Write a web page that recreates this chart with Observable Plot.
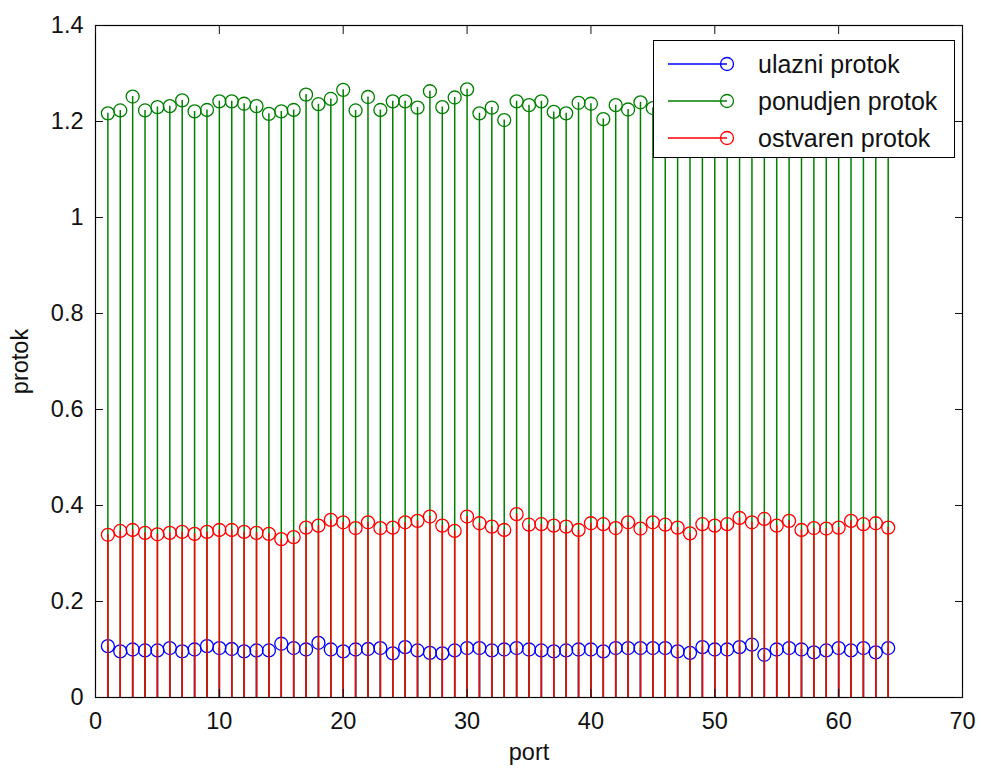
<!DOCTYPE html>
<html>
<head>
<meta charset="utf-8">
<script src="https://cdn.jsdelivr.net/npm/d3@7"></script>
<script src="https://cdn.jsdelivr.net/npm/@observablehq/plot@0.6"></script>
<style>
  html, body { margin: 0; padding: 0; background: #fff; }
  #wrap { position: relative; width: 981px; height: 771px; font-family: "Liberation Sans", Arial, sans-serif; }
  #legend {
    position: absolute; left: 653px; top: 40px; width: 300px; height: 116px;
    background: #fff; border: 1px solid #000; box-sizing: content-box;
  }
  #legend .row { position: absolute; left: 0; height: 30px; display: flex; align-items: center; }
  #legend .row span { font-size: 25px; color: #111; white-space: nowrap; }
</style>
</head>
<body>
<div id="wrap"></div>
<script>
// Port numbers along the x axis
const ports = [1,2,3,4,5,6,7,8,9,10,11,12,13,14,15,16,17,18,19,20,21,22,23,24,25,26,27,28,29,30,31,32,
  33,34,35,36,37,38,39,40,41,42,43,44,45,46,47,48,49,50,51,52,53,54,55,56,57,58,59,60,61,62,63,64];

// ulazni protok (input flow) per port
const ulazni = [0.107,0.096,0.100,0.098,0.098,0.103,0.096,0.100,0.107,0.103,0.101,0.096,0.098,0.098,0.112,0.103,
  0.100,0.114,0.100,0.096,0.100,0.101,0.103,0.092,0.105,0.098,0.093,0.092,0.098,0.103,0.103,0.098,
  0.100,0.103,0.100,0.098,0.096,0.098,0.100,0.100,0.096,0.103,0.103,0.103,0.103,0.103,0.096,0.093,
  0.105,0.100,0.100,0.105,0.110,0.089,0.100,0.103,0.100,0.094,0.098,0.103,0.098,0.103,0.094,0.103];

// ponudjen protok (offered flow) per port
const ponudjen = [1.217,1.223,1.252,1.223,1.230,1.232,1.244,1.221,1.224,1.242,1.242,1.237,1.232,1.216,1.221,1.224,
  1.256,1.236,1.247,1.266,1.223,1.251,1.224,1.242,1.242,1.229,1.263,1.230,1.250,1.267,1.217,1.229,
  1.203,1.242,1.234,1.242,1.220,1.217,1.239,1.237,1.205,1.234,1.225,1.240,1.228,1.232,1.219,1.241,
  1.226,1.214,1.238,1.229,1.222,1.245,1.218,1.233,1.227,1.240,1.215,1.231,1.224,1.236,1.221,1.228];

// ostvaren protok (achieved flow) per port
const ostvaren = [0.339,0.347,0.349,0.343,0.340,0.343,0.345,0.341,0.345,0.349,0.349,0.345,0.343,0.341,0.330,0.334,
  0.354,0.358,0.370,0.365,0.353,0.365,0.353,0.354,0.365,0.368,0.377,0.358,0.347,0.377,0.363,0.356,
  0.349,0.382,0.360,0.361,0.358,0.356,0.349,0.363,0.361,0.353,0.365,0.352,0.365,0.360,0.354,0.342,
  0.361,0.358,0.361,0.374,0.365,0.372,0.358,0.368,0.349,0.353,0.352,0.354,0.368,0.361,0.363,0.354];

const seriesNames = ["ulazni protok", "ponudjen protok", "ostvaren protok"];
const seriesColors = ["#0000ff", "#008000", "#ff0000"];
const seriesValues = [ulazni, ponudjen, ostvaren];

const xTicks = [0, 10, 20, 30, 40, 50, 60, 70];
const yTicks = [0, 0.2, 0.4, 0.6, 0.8, 1, 1.2, 1.4];
const yTickLabels = ["0", "0.2", "0.4", "0.6", "0.8", "1", "1.2", "1.4"];

// One stem layer (rules + open circles) per series, drawn blue, green, red
const stemMarks = seriesValues.flatMap((vals, i) => {
  const rows = ports.map((p, j) => ({port: p, value: vals[j]}));
  return [
    Plot.ruleX(rows, {x: "port", y1: 0, y2: "value", stroke: seriesColors[i], strokeWidth: 1.5}),
    Plot.dot(rows, {x: "port", y: "value", r: 6.5, stroke: seriesColors[i], strokeWidth: 1.3, fill: "none"})
  ];
});

const chart = Plot.plot({
  width: 981,
  height: 771,
  marginLeft: 95,
  marginRight: 19,
  marginTop: 25,
  marginBottom: 74,
  style: {fontFamily: "Liberation Sans, Arial, sans-serif", fontSize: "23.5px", color: "#111", background: "#fff"},
  x: {domain: [0, 70]},
  y: {domain: [0, 1.4]},
  marks: [
    ...stemMarks,
    Plot.frame({stroke: "#000", strokeWidth: 1.2}),
    // inward tick marks on all four sides
    Plot.axisX(xTicks, {anchor: "bottom", tickSize: -8, text: null, label: null}),
    Plot.axisX(xTicks, {anchor: "top", tickSize: -8, text: null, label: null}),
    Plot.axisY(yTicks, {anchor: "left", tickSize: -8, text: null, label: null}),
    Plot.axisY(yTicks, {anchor: "right", tickSize: -8, text: null, label: null}),
    // tick labels and axis titles
    Plot.axisX(xTicks, {anchor: "bottom", tickSize: 0, tickPadding: 15, label: "port",
      labelAnchor: "center", labelArrow: "none", labelOffset: 62}),
    Plot.axisY(yTicks, {anchor: "left", tickSize: 0, tickPadding: 12,
      tickFormat: (d, i) => yTickLabels[i], label: "protok",
      labelAnchor: "center", labelArrow: "none", labelOffset: 84})
  ]
});

const wrap = document.getElementById("wrap");
wrap.appendChild(chart);

// Legend box laid over the upper right of the axes
const legend = document.createElement("div");
legend.id = "legend";
const rowTops = [8, 45, 82];
seriesNames.forEach((name, i) => {
  const row = document.createElement("div");
  row.className = "row";
  row.style.top = rowTops[i] + "px";
  const sw = d3.create("svg").attr("width", 88).attr("height", 30).style("display", "block");
  sw.append("line").attr("x1", 14).attr("x2", 73).attr("y1", 15).attr("y2", 15)
    .attr("stroke", seriesColors[i]).attr("stroke-width", 1.5);
  sw.append("circle").attr("cx", 73).attr("cy", 15).attr("r", 6.5)
    .attr("fill", "none").attr("stroke", seriesColors[i]).attr("stroke-width", 1.3);
  row.appendChild(sw.node());
  const label = document.createElement("span");
  label.textContent = name;
  label.style.marginLeft = "16px";
  row.appendChild(label);
  legend.appendChild(row);
});
wrap.appendChild(legend);
</script>
</body>
</html>
